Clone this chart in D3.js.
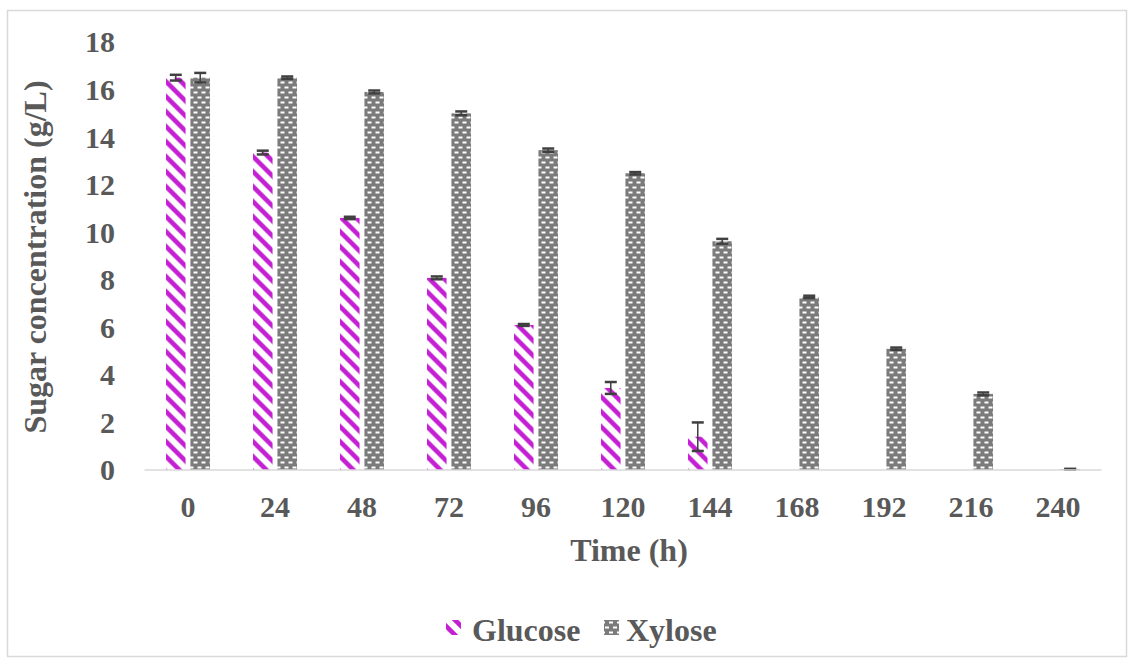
<!DOCTYPE html>
<html>
<head>
<meta charset="utf-8">
<script src="https://cdn.jsdelivr.net/npm/d3@7"></script>
<style>
  html, body { margin: 0; padding: 0; background: #fff; }
  svg { display: block; }
  text { font-family: "Liberation Serif", "Times New Roman", serif; font-weight: bold; fill: #595959; }
</style>
</head>
<body>
<svg id="chart" width="1134" height="664"></svg>
<script>
// Sampling times (h)
const times = ["0", "24", "48", "72", "96", "120", "144", "168", "192", "216", "240"];
// Sugar concentrations (g/L); null where the sugar is no longer detected
const glucose    = [16.5, 13.35, 10.6, 8.08, 6.1, 3.45, 1.4, null, null, null, null];
const glucoseErr = [0.12, 0.08, 0.05, 0.06, 0.04, 0.25, 0.6, null, null, null, null];
const xylose     = [16.5, 16.5, 15.9, 15.0, 13.45, 12.48, 9.62, 7.28, 5.1, 3.2, 0.03];
const xyloseErr  = [0.2, 0.05, 0.06, 0.08, 0.07, 0.05, 0.1, 0.05, 0.05, 0.06, 0.02];
const seriesNames = ["Glucose", "Xylose"];
const yTicks = [0, 2, 4, 6, 8, 10, 12, 14, 16, 18];

const svg = d3.select("#chart");
const W = 1134, H = 664;
const plot = { left: 144.5, right: 1101.5, top: 42, bottom: 470 };

// Chart frame
svg.append("rect")
  .attr("x", 7.5).attr("y", 10.5)
  .attr("width", W - 15).attr("height", H - 18)
  .attr("fill", "#fff").attr("stroke", "#d9d9d9").attr("stroke-width", 1.5);

// Fill patterns
const defs = svg.append("defs");
const glu = defs.append("pattern")
  .attr("id", "pat-glucose").attr("patternUnits", "userSpaceOnUse")
  .attr("width", 15).attr("height", 15);
glu.append("rect").attr("width", 15).attr("height", 15).attr("fill", "#fff");
glu.append("path")
  .attr("d", "M-4,-4 L19,19 M-4,11 L4,19 M11,-4 L19,4")
  .attr("stroke", "#c41fd3").attr("stroke-width", 4.6);

const xyl = defs.append("pattern")
  .attr("id", "pat-xylose").attr("patternUnits", "userSpaceOnUse")
  .attr("width", 8).attr("height", 10);
xyl.append("rect").attr("width", 8).attr("height", 10).attr("fill", "#7b7b7b");
xyl.append("rect").attr("x", 1).attr("y", 1.5).attr("width", 4).attr("height", 2).attr("fill", "#fff");
xyl.append("rect").attr("x", 5).attr("y", 6.5).attr("width", 4).attr("height", 2).attr("fill", "#fff");
xyl.append("rect").attr("x", -3).attr("y", 6.5).attr("width", 4).attr("height", 2).attr("fill", "#fff");

// Scales
const x0 = d3.scaleBand().domain(times).range([plot.left, plot.right]).padding(0);
const bw = x0.bandwidth();
const x1 = d3.scaleBand().domain(seriesNames)
  .range([bw * 0.247, bw * 0.753]).paddingInner(0.2);
const y = d3.scaleLinear().domain([0, 18]).range([plot.bottom, plot.top]);

const fills = { Glucose: "url(#pat-glucose)", Xylose: "url(#pat-xylose)" };
const rows = times.map((t, i) => ({
  t,
  vals: [
    { key: "Glucose", v: glucose[i], e: glucoseErr[i] },
    { key: "Xylose", v: xylose[i], e: xyloseErr[i] }
  ].filter(d => d.v !== null)
}));

// Bars
const groups = svg.append("g").selectAll("g").data(rows).join("g")
  .attr("transform", d => `translate(${x0(d.t)},0)`);
groups.selectAll("rect").data(d => d.vals).join("rect")
  .attr("x", d => x1(d.key)).attr("width", x1.bandwidth())
  .attr("y", d => y(d.v)).attr("height", d => y(0) - y(d.v))
  .attr("fill", d => fills[d.key]);

// Error bars
const eb = groups.selectAll("g.err").data(d => d.vals).join("g").attr("class", "err");
const cx = d => x1(d.key) + x1.bandwidth() / 2;
eb.append("line")
  .attr("x1", cx).attr("x2", cx)
  .attr("y1", d => y(d.v + d.e)).attr("y2", d => y(Math.max(0, d.v - d.e)))
  .attr("stroke", "#404040").attr("stroke-width", 1.5);
[1, -1].forEach(s => {
  eb.append("line")
    .attr("x1", d => cx(d) - 6).attr("x2", d => cx(d) + 6)
    .attr("y1", d => y(Math.max(0, d.v + s * d.e))).attr("y2", d => y(Math.max(0, d.v + s * d.e)))
    .attr("stroke", "#404040").attr("stroke-width", 2.5);
});

// X axis baseline and labels
svg.append("line")
  .attr("x1", plot.left).attr("x2", plot.right)
  .attr("y1", y(0)).attr("y2", y(0))
  .attr("stroke", "#d9d9d9").attr("stroke-width", 1.5);

const xAxis = d3.axisBottom(x0).tickSize(0).tickPadding(0);
const gx = svg.append("g").attr("transform", `translate(0,${y(0)})`).call(xAxis);
gx.select(".domain").remove();
gx.selectAll("text")
  .attr("dy", null).attr("y", 47)
  .style("font-size", "30px").style("font-family", "Liberation Serif").style("font-weight", "bold")
  .attr("fill", "#595959");

// Y axis labels
const yAxis = d3.axisLeft(y).tickValues(yTicks).tickSize(0).tickPadding(0);
const gy = svg.append("g").attr("transform", `translate(115,0)`).call(yAxis);
gy.select(".domain").remove();
gy.selectAll("text")
  .attr("dy", "0.33em")
  .style("font-size", "30px").style("font-family", "Liberation Serif").style("font-weight", "bold")
  .attr("fill", "#595959");

// Axis titles
svg.append("text")
  .attr("transform", "translate(46,257) rotate(-90)")
  .attr("text-anchor", "middle")
  .style("font-size", "32px")
  .text("Sugar concentration (g/L)");
svg.append("text")
  .attr("x", 629).attr("y", 561)
  .attr("text-anchor", "middle")
  .style("font-size", "32px")
  .text("Time (h)");

// Legend
const legend = [
  { key: "Glucose", sx: 446, tx: 472 },
  { key: "Xylose", sx: 604, tx: 626 }
];
const lg = svg.append("g");
lg.selectAll("rect").data(legend).join("rect")
  .attr("x", d => d.sx).attr("y", 620).attr("width", 15).attr("height", 15)
  .attr("fill", d => fills[d.key]);
lg.selectAll("text").data(legend).join("text")
  .attr("x", d => d.tx).attr("y", 641)
  .style("font-size", "32px")
  .text(d => d.key);
</script>
</body>
</html>
